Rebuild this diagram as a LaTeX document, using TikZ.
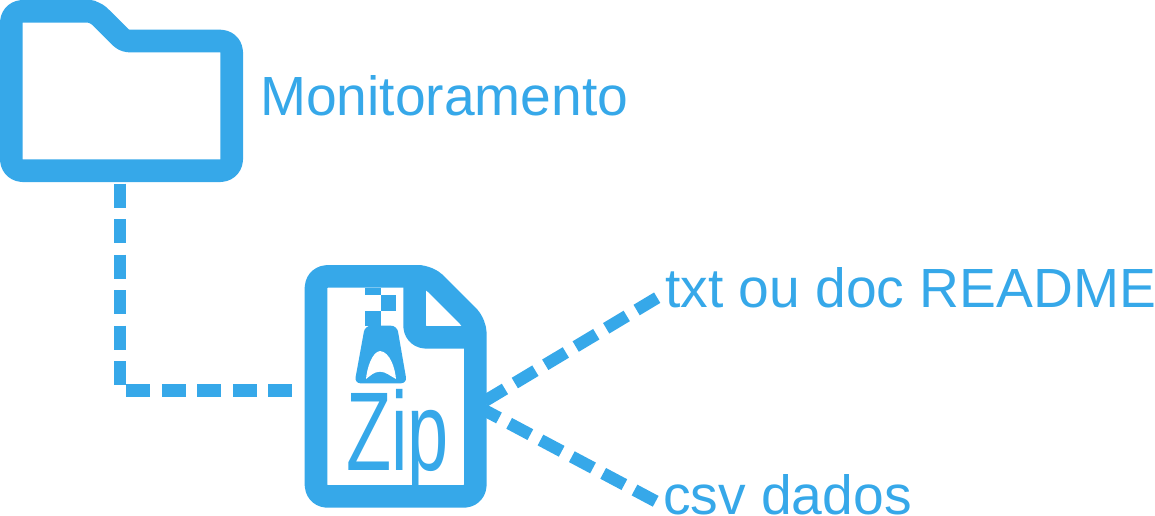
\documentclass[tikz,border=0pt]{standalone}
\usepackage{fontspec}
\setmainfont{Liberation Sans}
\definecolor{iconblue}{RGB}{54,168,233}
\begin{document}
\begin{tikzpicture}[x=1pt,y=-1pt,
    icon/.style={draw=iconblue,line width=22.6pt,rounded corners=11pt,line join=round},
    link/.style={draw=iconblue,line width=12.2pt,dash pattern=on 24pt off 11.5pt},
    label/.style={text=iconblue,inner sep=0pt,anchor=base west,font=\fontsize{55.2}{55.2}\selectfont}]
    \useasboundingbox (0,0) rectangle (1155,516);
    % folder
    \draw[icon] (11.3,41)--(11.3,11.3)--(80,11.3)[rounded corners=7pt]--(94.5,11.3)[rounded corners=4pt]--(124.5,41)[rounded corners=11pt]--(231.7,41)--(231.7,170.7)--(11.3,170.7)--(11.3,41);
    % zip file
    \draw[icon] (316,340)--(316,276.4)--(410,276.4)[rounded corners=10pt]--(428.4,276.4)--(475.3,323.3)[rounded corners=11pt]--(475.3,496.4)--(316,496.4)--(316,340);
    \draw[icon] (414.6,280)--(414.6,337.3)--(475.3,337.3);
    % zipper
    \fill[iconblue] (365,287.7) rectangle (380.7,295);
    \fill[iconblue] (380.7,295) rectangle (396,310.7);
    \fill[iconblue] (365,310.7) rectangle (380.7,326);
    \fill[iconblue,rounded corners=6pt] (365,325.7)--(397,325.7)--(407,383.3)--(354.5,383.3)--cycle;
    \fill[white] (380,351) .. controls (390,352) and (395,368) .. (396,379) .. controls (390,376) and (386,371.7) .. (380,371.7)
        .. controls (374,371.7) and (370,376) .. (366,379) .. controls (367,368) and (372,352) .. (380,351);
    \node[transform shape,xscale=0.66,text=iconblue,inner sep=0pt,anchor=base west,font=\fontsize{112}{112}\selectfont] (ziptext) at (346,470) {Zip};
    % labels
    \node[label] (monitor) at (260,115) {Monitoramento};
    \node[label] (readme) at (665,307.5) {txt ou doc README};
    \node[label] (csv) at (663,514.5) {csv dados};
    % connectors
    \coordinate (folderout) at (120.2,183.7);
    \coordinate (zipin) at (292,390.5);
    \coordinate (zipout) at (476.5,406);
    \coordinate (readmein) at (657.2,297.7);
    \coordinate (csvin) at (655.7,501.3);
    \draw[link] (folderout)|-(zipin);
    \draw[link] (readmein)--(zipout);
    \draw[link] (csvin)--(zipout);
\end{tikzpicture}
\end{document}
